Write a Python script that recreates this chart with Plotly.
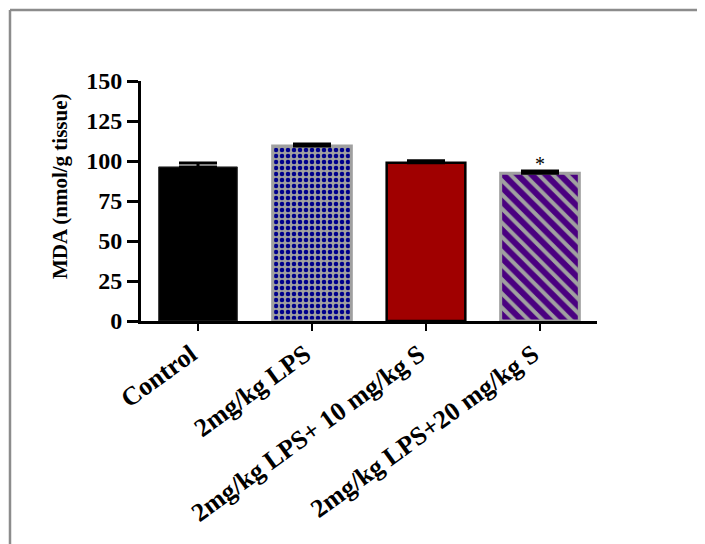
import plotly.graph_objects as go

categories = ["Control", "2mg/kg LPS", "2mg/kg LPS+ 10 mg/kg S", "2mg/kg LPS+20 mg/kg S"]
means = [96.3, 109.4, 98.9, 92.3]
sem = [2.4, 1.2, 1.3, 1.5]
y_ticks = [0, 25, 50, 75, 100, 125, 150]
sig_labels = ["", "", "", "*"]

fill_colors = ["#000000", "#a0a0a0", "#a00000", "#a0a0a0"]
pattern_fg = ["#000000", "#00008c", "#a00000", "#4a0080"]
pattern_shape = ["", ".", "", "\\"]
pattern_size = [8, 6, 8, 10]
pattern_solid = [0.3, 0.45, 0.3, 0.6]
outline_colors = ["#303030", "#a0a0a0", "#000000", "#a0a0a0"]
outline_widths = [1, 3, 2.5, 3]

FONT = "Liberation Serif"

fig = go.Figure()
for i, c in enumerate(categories):
    pat = dict(shape=pattern_shape[i], fgcolor=pattern_fg[i], bgcolor=fill_colors[i],
               size=pattern_size[i], solidity=pattern_solid[i], fillmode="replace")
    fig.add_trace(go.Bar(
        x=[c], y=[means[i]], width=0.69,
        marker=dict(color=fill_colors[i],
                    line=dict(color=outline_colors[i], width=outline_widths[i]),
                    pattern=pat),
        error_y=dict(type="data", array=[sem[i]], arrayminus=[0], symmetric=False,
                     color="black", thickness=3, width=19),
        showlegend=False,
    ))

for c, m, s, lab in zip(categories, means, sem, sig_labels):
    if lab:
        fig.add_annotation(x=c, y=m + s + 4.5, text=lab, showarrow=False,
                           font=dict(family=FONT, size=20, color="black"),
                           yanchor="middle")

fig.add_annotation(xref="paper", yref="paper", x=-0.1776, y=0.5625,
                   text="<b>MDA (nmol/g tissue)</b>", textangle=-90, showarrow=False,
                   font=dict(family=FONT, size=21, color="black"),
                   xanchor="center", yanchor="middle")

# outer frame (top and left edges)
fig.add_shape(type="line", xref="paper", yref="paper", x0=-0.2873, x1=1.3, y0=1.2958, y1=1.2958,
              line=dict(color="#8c8c8c", width=2.5))
fig.add_shape(type="line", xref="paper", yref="paper", x0=-0.2873, x1=-0.2873, y0=1.2958, y1=-1.0,
              line=dict(color="#8c8c8c", width=2.5))

fig.update_layout(
    width=697, height=536,
    margin=dict(l=133, r=108, t=73, b=223),
    paper_bgcolor="white", plot_bgcolor="white",
    font=dict(family=FONT, color="black"),
    barmode="overlay",
)
fig.update_xaxes(
    range=[-0.5, 3.5], showline=True, linecolor="black", linewidth=3,
    ticks="outside", ticklen=7, tickwidth=2, tickcolor="black",
    tickangle=-36, tickfont=dict(family=FONT, size=26, color="black"),
    tickvals=categories, ticktext=["<b>%s</b>" % c for c in categories],
    ticklabelshift=-7, ticklabelstandoff=-2,
    showgrid=False, zeroline=False,
)
fig.update_yaxes(
    range=[0, 150], showline=True, linecolor="black", linewidth=3,
    ticks="outside", ticklen=11, tickwidth=3, tickcolor="black",
    tickvals=y_ticks, ticktext=["<b>%d</b>" % v for v in y_ticks],
    tickfont=dict(family=FONT, size=24, color="black"),
    showgrid=False, zeroline=False,
)

fig.write_html("out.html", config={"displayModeBar": False})
